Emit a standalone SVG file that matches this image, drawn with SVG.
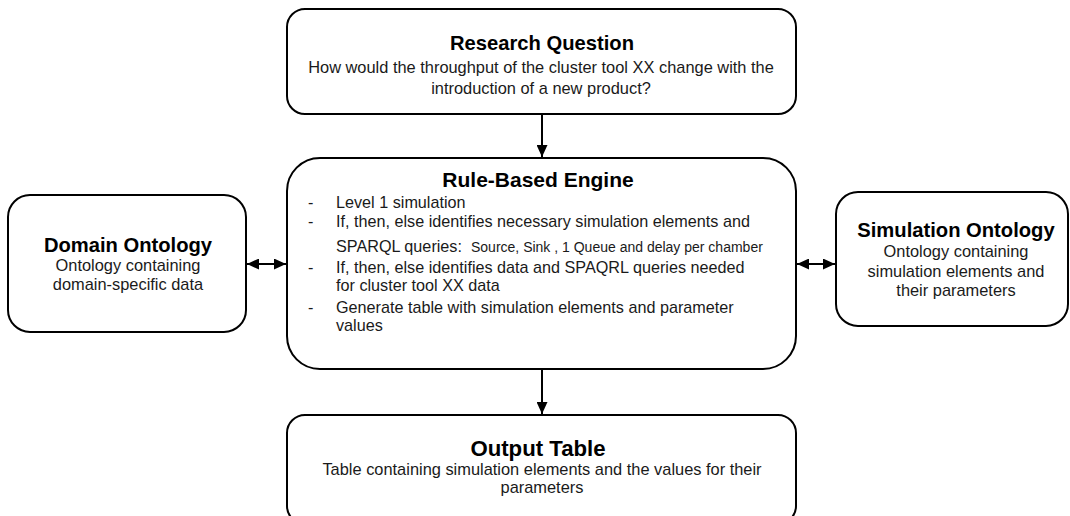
<svg xmlns="http://www.w3.org/2000/svg" width="1070" height="516" viewBox="0 0 1070 516">
  <style>
    .box { fill: #ffffff; stroke: #000000; stroke-width: 2; }
    .title { font-family: "Liberation Sans", Arial, sans-serif; font-weight: bold; font-size: 20.2px; fill: #000000; text-anchor: middle; }
    .title-lg { font-size: 21px; }
    .title-xl { font-size: 22.2px; }
    .body { font-family: "Liberation Sans", Arial, sans-serif; font-size: 16.4px; fill: #1a1a1a; text-anchor: middle; }
    .list { font-family: "Liberation Sans", Arial, sans-serif; font-size: 16.2px; fill: #1a1a1a; }
    .small { font-size: 14px; }
    .link { fill: none; stroke: #000000; stroke-width: 2; }
  </style>
  <defs>
    <marker id="arrow" viewBox="0 0 12 11" refX="12" refY="5.5" markerWidth="12" markerHeight="11" markerUnits="userSpaceOnUse" orient="auto-start-reverse">
      <path d="M0,0 L12,5.5 L0,11 Z" fill="#000000"/>
    </marker>
  </defs>

  <rect width="1070" height="516" fill="#ffffff"/>

  <!-- connectors -->
  <g id="connectors">
    <path class="link" d="M542,114 L542,157" marker-end="url(#arrow)"/>
    <path class="link" d="M542,369 L542,414" marker-end="url(#arrow)"/>
    <path class="link" d="M247,264 L286,264" marker-start="url(#arrow)" marker-end="url(#arrow)"/>
    <path class="link" d="M797,264 L835,264" marker-start="url(#arrow)" marker-end="url(#arrow)"/>
  </g>

  <!-- research question -->
  <g id="research-question">
    <rect class="box" x="287" y="9" width="509" height="105" rx="18" ry="18"/>
    <text class="title" x="542" y="50">Research Question</text>
    <text class="body" x="541" y="73">How would the throughput of the cluster tool XX change with the</text>
    <text class="body" x="541" y="94">introduction of a new product?</text>
  </g>

  <!-- rule-based engine -->
  <g id="rule-based-engine">
    <rect class="box" x="287" y="158" width="509" height="211" rx="33" ry="33"/>
    <text class="title title-lg" x="538" y="187">Rule-Based Engine</text>
    <g class="list">
      <text x="308" y="208">-</text>
      <text x="336" y="208">Level 1 simulation</text>
      <text x="308" y="227">-</text>
      <text x="336" y="227">If, then, else identifies necessary simulation elements and</text>
      <text x="336" y="252">SPARQL queries: <tspan class="small" x="471">Source, Sink , 1 Queue and delay per chamber</tspan></text>
      <text x="308" y="273">-</text>
      <text x="336" y="273">If, then, else identifies data and SPAQRL queries needed</text>
      <text x="336" y="291">for cluster tool XX data</text>
      <text x="308" y="313">-</text>
      <text x="336" y="313">Generate table with simulation elements and parameter</text>
      <text x="336" y="331">values</text>
    </g>
  </g>

  <!-- domain ontology -->
  <g id="domain-ontology">
    <rect class="box" x="8" y="195" width="238" height="137" rx="22" ry="22"/>
    <text class="title" x="128" y="252">Domain Ontology</text>
    <text class="body" x="128" y="271">Ontology containing</text>
    <text class="body" x="128" y="290">domain-specific data</text>
  </g>

  <!-- simulation ontology -->
  <g id="simulation-ontology">
    <rect class="box" x="836" y="192" width="232" height="134" rx="22" ry="22"/>
    <text class="title" x="956" y="237">Simulation Ontology</text>
    <text class="body" x="956" y="257">Ontology containing</text>
    <text class="body" x="956" y="277">simulation elements and</text>
    <text class="body" x="956" y="296">their parameters</text>
  </g>

  <!-- output table -->
  <g id="output-table">
    <rect class="box" x="287" y="415" width="509" height="109" rx="18" ry="18"/>
    <text class="title title-xl" x="538" y="456">Output Table</text>
    <text class="body" x="542" y="475">Table containing simulation elements and the values for their</text>
    <text class="body" x="542" y="493">parameters</text>
  </g>
</svg>
